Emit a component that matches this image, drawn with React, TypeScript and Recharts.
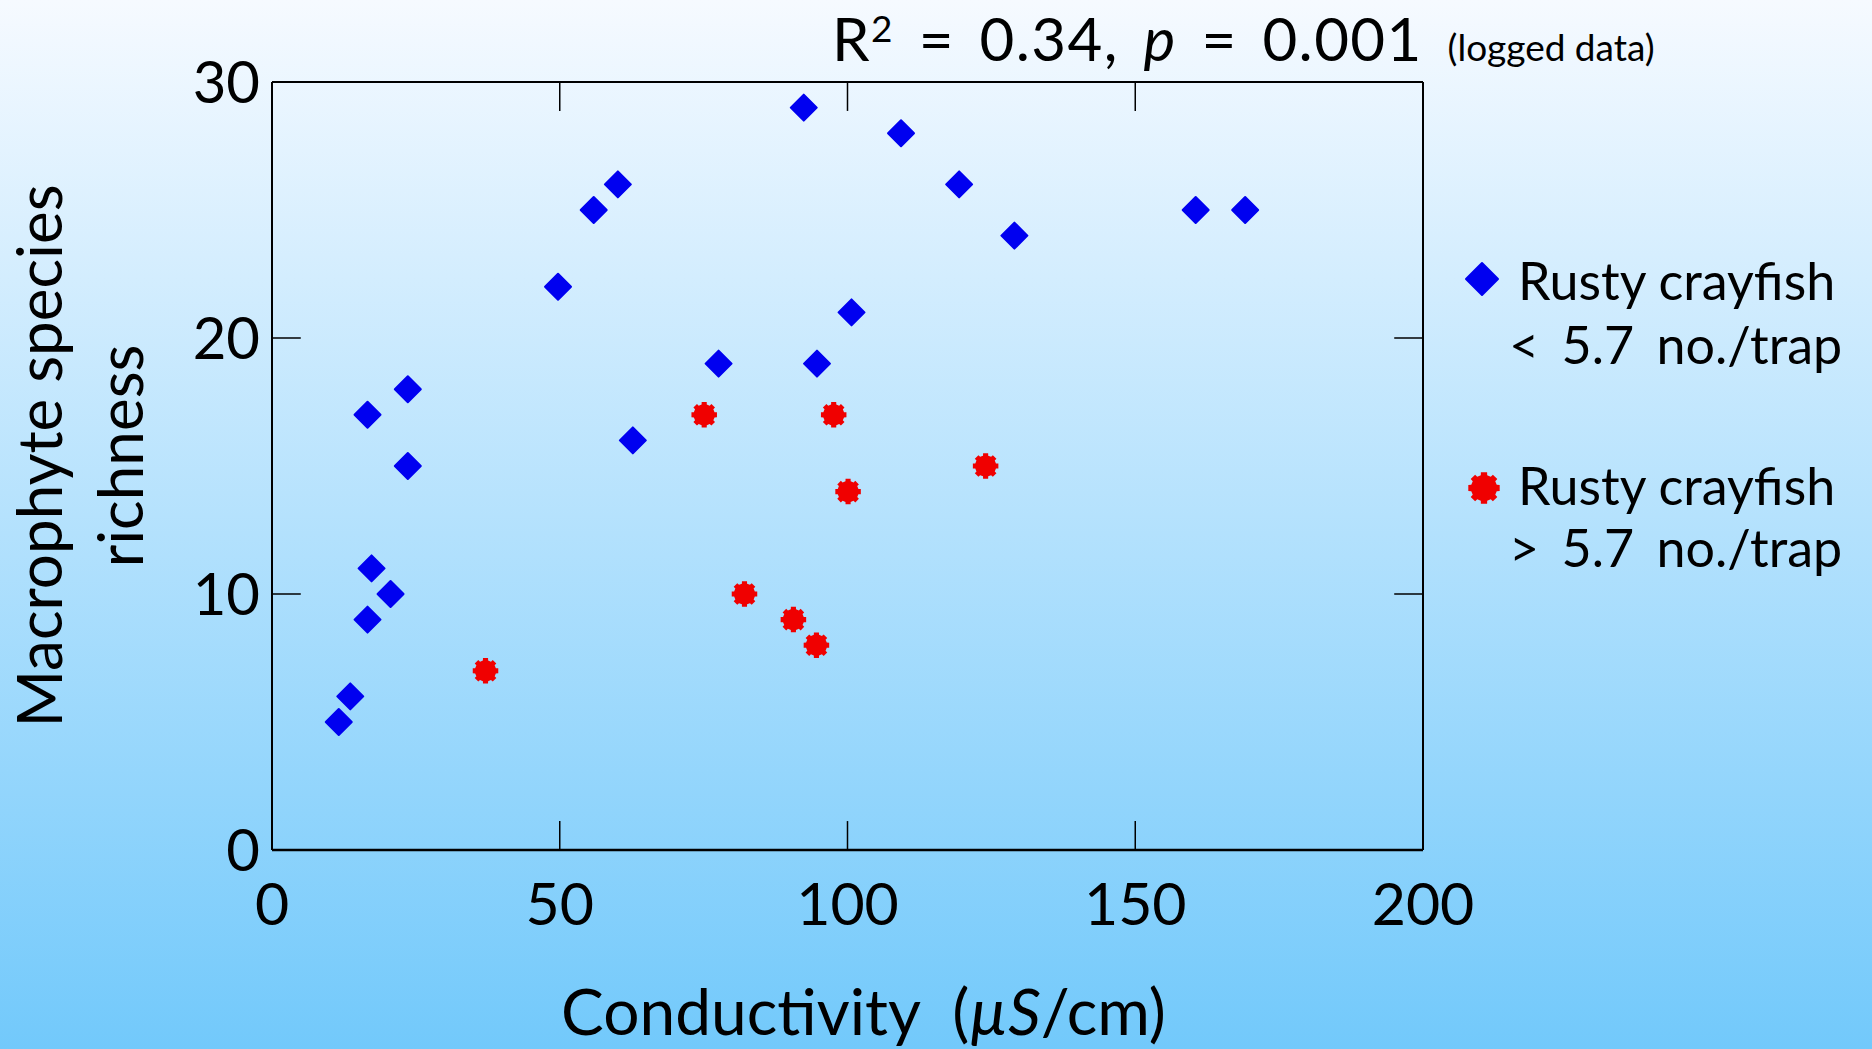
import {
  Label,
  Legend,
  ReferenceLine,
  Scatter,
  ScatterChart,
  XAxis,
  YAxis,
} from "recharts";

// conductivity (µS/cm) and macrophyte species richness per lake
const lowX = [11.6, 13.6, 16.6, 17.3, 20.6, 23.6, 16.6, 23.6, 49.7, 55.9, 60.1, 62.7, 77.6, 92.4, 94.7, 100.7, 109.3, 119.4, 129.0, 160.5, 169.1];
const lowY = [5, 6, 9, 11, 10, 15, 17, 18, 22, 25, 26, 16, 19, 29, 19, 21, 28, 26, 24, 25, 25];
const highX = [37.1, 75.1, 82.1, 90.6, 94.6, 97.6, 100.1, 124.0];
const highY = [7, 17, 10, 9, 8, 17, 14, 15];

const xTicks = [0, 50, 100, 150, 200];
const yTicks = [0, 10, 20, 30];

const lowData = lowX.map((x, i) => ({ x, y: lowY[i] }));
const highData = highX.map((x, i) => ({ x, y: highY[i] }));

const FONT = "Lato, 'Open Sans', sans-serif";
const W = 1872;
const H = 1049;

// inward tick length, in data units (~29px)
const xTickLen = 5;
const yTickLen = 1.13;

const Diamond = ({ cx, cy, r = 13 }: any) => (
  <polygon
    points={`${cx},${cy - r} ${cx + r},${cy} ${cx},${cy + r} ${cx - r},${cy}`}
    fill="#0000f0"
    stroke="#0000f0"
    strokeWidth={2}
    strokeLinejoin="round"
  />
);

const Gear = ({ cx, cy, r = 13 }: any) => {
  const pts: string[] = [];
  const teeth = 8;
  for (let i = 0; i < teeth; i++) {
    const a = (i * 2 * Math.PI) / teeth;
    const w = Math.PI / teeth / 1.6;
    const steps = [
      [a - w, r * 0.82],
      [a - w * 0.8, r],
      [a + w * 0.8, r],
      [a + w, r * 0.82],
    ];
    steps.forEach(([ang, rad]) =>
      pts.push(`${cx + rad * Math.cos(ang)},${cy + rad * Math.sin(ang)}`)
    );
  }
  return <polygon points={pts.join(" ")} fill="#f00000" />;
};

const LegendBox = () => (
  <svg width={432} height={370} style={{ fontFamily: FONT }}>
    <Diamond cx={42} cy={49} r={16} />
    <text x={78} y={70} fontSize={52} fill="#000">Rusty crayfish</text>
    <text x={69} y={134} fontSize={52} wordSpacing={9} fill="#000">&lt; 5.7 no./trap</text>
    <Gear cx={44} cy={258} r={16} />
    <text x={78} y={275} fontSize={52} fill="#000">Rusty crayfish</text>
    <text x={69} y={337} fontSize={52} wordSpacing={9} fill="#000">&gt; 5.7 no./trap</text>
  </svg>
);

const YTitle = ({ viewBox }: any) => {
  const cy = viewBox.y + viewBox.height / 2 - 10;
  return (
    <g fontFamily={FONT} fontSize={62} fill="#000">
      <text transform={`translate(62, ${cy}) rotate(-90)`} textAnchor="middle">
        Macrophyte species
      </text>
      <text transform={`translate(143, ${cy}) rotate(-90)`} textAnchor="middle">
        richness
      </text>
    </g>
  );
};

const XTitle = ({ viewBox }: any) => (
  <text
    x={viewBox.x + viewBox.width / 2 + 16}
    y={1035}
    textAnchor="middle"
    fontFamily={FONT}
    fontSize={64}
    fill="#000"
  >
    Conductivity{"\u00a0\u00a0"}(<tspan fontStyle="italic">µS</tspan>/cm)
  </text>
);

export default function App() {
  return (
    <div
      style={{
        position: "absolute",
        left: 0,
        top: 0,
        width: W,
        height: H,
        background: "linear-gradient(to bottom, #f6faff 0%, #72c9fb 100%)",
        fontFamily: FONT,
      }}
    >
      <ScatterChart
        width={W}
        height={H}
        margin={{ top: 82, right: 449, bottom: 139, left: 192 }}
      >
        <XAxis
          type="number"
          dataKey="x"
          domain={[0, 200]}
          ticks={xTicks}
          height={60}
          tickLine={false}
          tickSize={0}
          tickMargin={33}
          axisLine={{ stroke: "#000", strokeWidth: 2.5 }}
          tick={{ fill: "#000", fontSize: 59, fontFamily: FONT }}
        >
          <Label content={XTitle} />
        </XAxis>
        <YAxis
          type="number"
          dataKey="y"
          domain={[0, 30]}
          ticks={yTicks}
          width={80}
          tickLine={false}
          tickSize={0}
          tickMargin={12}
          axisLine={{ stroke: "#000", strokeWidth: 2 }}
          tick={{ fill: "#000", fontSize: 58, fontFamily: FONT }}
        >
          <Label content={YTitle} />
        </YAxis>
        <ReferenceLine y={30} stroke="#000" strokeWidth={2} />
        <ReferenceLine x={200} stroke="#000" strokeWidth={2} />
        {xTicks.slice(1, -1).map((t) => (
          <ReferenceLine
            key={`xb${t}`}
            segment={[{ x: t, y: 0 }, { x: t, y: yTickLen }]}
            stroke="#000"
            strokeWidth={1.5}
          />
        ))}
        {xTicks.slice(1, -1).map((t) => (
          <ReferenceLine
            key={`xt${t}`}
            segment={[{ x: t, y: 30 }, { x: t, y: 30 - yTickLen }]}
            stroke="#000"
            strokeWidth={1.5}
          />
        ))}
        {yTicks.slice(1, -1).map((t) => (
          <ReferenceLine
            key={`yl${t}`}
            segment={[{ x: 0, y: t }, { x: xTickLen, y: t }]}
            stroke="#000"
            strokeWidth={1.5}
          />
        ))}
        {yTicks.slice(1, -1).map((t) => (
          <ReferenceLine
            key={`yr${t}`}
            segment={[{ x: 200, y: t }, { x: 200 - xTickLen, y: t }]}
            stroke="#000"
            strokeWidth={1.5}
          />
        ))}
        <Scatter
          name="Rusty crayfish < 5.7 no./trap"
          data={lowData}
          shape={<Diamond />}
          isAnimationActive={false}
        />
        <Scatter
          name="Rusty crayfish > 5.7 no./trap"
          data={highData}
          shape={<Gear />}
          isAnimationActive={false}
        />
        <Legend
          layout="vertical"
          align="center"
          verticalAlign="middle"
          content={LegendBox}
          wrapperStyle={{ left: 1440, top: 230, width: 432, height: 370 }}
        />
      </ScatterChart>
      <svg
        width={W}
        height={120}
        style={{ position: "absolute", left: 0, top: 0, pointerEvents: "none" }}
      >
        <text
          x={832}
          y={61}
          fontFamily={FONT}
          fontSize={60}
          letterSpacing={1.4}
          wordSpacing={8}
          fill="#000"
        >
          R<tspan dy={-19} fontSize={37}>2</tspan>
          <tspan dy={19}> = 0.34, </tspan>
          <tspan fontStyle="italic">p</tspan> = 0.001{" "}
          <tspan fontSize={37} letterSpacing={0} wordSpacing={0}>(logged data)</tspan>
        </text>
      </svg>
    </div>
  );
}
